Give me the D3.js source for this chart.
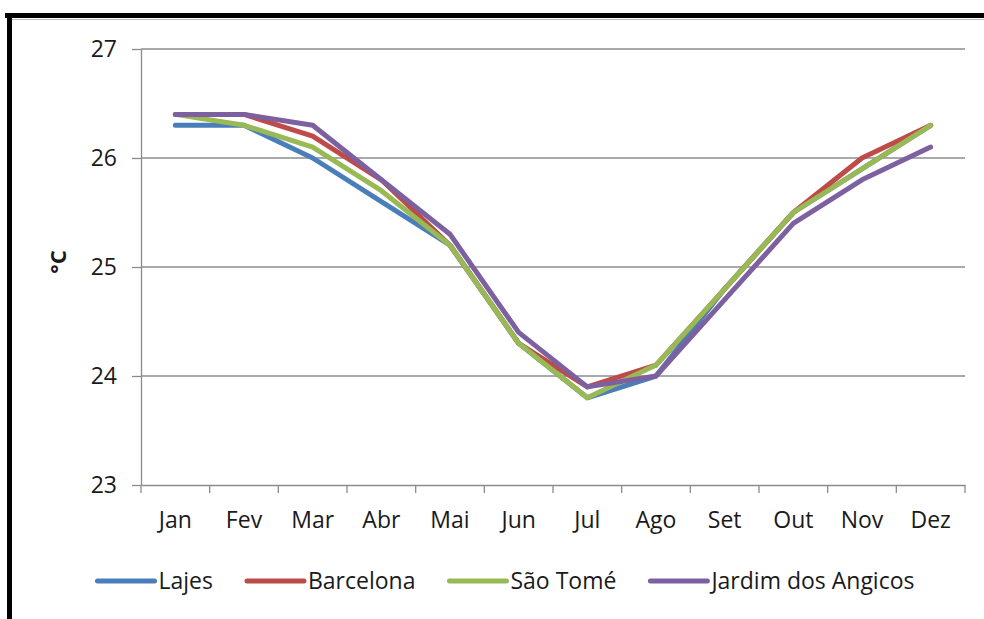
<!DOCTYPE html>
<html>
<head>
<meta charset="utf-8">
<script src="https://cdn.jsdelivr.net/npm/d3@7"></script>
<style>
    body { margin: 0; background: #fff; }
    svg text { font-family: "Open Sans", sans-serif; fill: #1a1a1a; }
    .grid line { stroke: #8c8c8c; stroke-width: 1.3; }
    .axis path, .axis line { stroke: #8c8c8c; stroke-width: 1.3; }
    .axis text { font-size: 23px; }
    .series { fill: none; stroke-width: 5; stroke-linejoin: round; stroke-linecap: round; }
    .legend text { font-size: 23px; }
</style>
</head>
<body>
<svg id="chart" width="984" height="619"></svg>
<script>
// months and series
const months = ["Jan", "Fev", "Mar", "Abr", "Mai", "Jun", "Jul", "Ago", "Set", "Out", "Nov", "Dez"];
const lajes     = [26.3, 26.3, 26.0, 25.6, 25.2, 24.3, 23.8, 24.0, 24.8, 25.5, 25.9, 26.3];
const barcelona = [26.4, 26.4, 26.2, 25.8, 25.2, 24.3, 23.9, 24.1, 24.8, 25.5, 26.0, 26.3];
const saoTome   = [26.4, 26.3, 26.1, 25.7, 25.2, 24.3, 23.8, 24.1, 24.8, 25.5, 25.9, 26.3];
const jardim    = [26.4, 26.4, 26.3, 25.8, 25.3, 24.4, 23.9, 24.0, 24.7, 25.4, 25.8, 26.1];
const yTicks = [23, 24, 25, 26, 27];

const series = [
    {name: "Lajes", values: lajes, color: "#4a7ebb"},
    {name: "Barcelona", values: barcelona, color: "#be4b48"},
    {name: "São Tomé", values: saoTome, color: "#98b954"},
    {name: "Jardim dos Angicos", values: jardim, color: "#7d60a0"}
];

const margin = {top: 49, left: 141, right: 19, bottom: 134};
const svg = d3.select("#chart");
const width = 984 - margin.left - margin.right;
const height = 619 - margin.top - margin.bottom;

// frame (top and left black border)
svg.append("rect").attr("x", 5).attr("y", 13).attr("width", 979).attr("height", 5).attr("fill", "#000");
svg.append("line").attr("x1", 12).attr("x2", 984).attr("y1", 19.5).attr("y2", 19.5)
    .attr("stroke", "#bbb").attr("stroke-width", 1);
svg.append("rect").attr("x", 7).attr("y", 13).attr("width", 5).attr("height", 606).attr("fill", "#000");

const chart = svg.append("g").attr("transform", "translate(" + margin.left + "," + margin.top + ")");

const x = d3.scaleBand().domain(months).range([0, width]);
const y = d3.scaleLinear().domain([23, 27]).range([height, 0]);

// gridlines
chart.append("g").attr("class", "grid")
    .selectAll("line").data(yTicks.filter(d => d !== 23)).enter()
    .append("line")
        .attr("x1", 0).attr("x2", width)
        .attr("y1", d => y(d)).attr("y2", d => y(d));

// y axis
const yAxis = chart.append("g").attr("class", "y axis")
    .call(d3.axisLeft(y).tickValues(yTicks).tickFormat(d3.format("d")).tickSize(9).tickPadding(15).tickSizeOuter(0));
yAxis.selectAll("text").attr("dy", "0.34em");

// x axis: ticks sit on category boundaries
const xAxis = chart.append("g").attr("class", "x axis")
    .attr("transform", "translate(0," + height + ")")
    .call(d3.axisBottom(x).tickSize(0).tickPadding(27).tickSizeOuter(0));
xAxis.selectAll(".boundary").data(d3.range(months.length + 1)).enter()
    .append("line").attr("class", "boundary")
        .attr("x1", i => i * x.step()).attr("x2", i => i * x.step())
        .attr("y1", 0).attr("y2", 8);

// y title
chart.append("text")
    .attr("transform", "translate(" + (58 - margin.left) + "," + (y(25) - 5) + ") rotate(-90)")
    .attr("text-anchor", "middle")
    .attr("dy", "0.35em")
    .style("font-size", "22px").style("font-weight", "bold")
    .text("°C");

// lines
const line = d3.line()
    .x((d, i) => x(months[i]) + x.bandwidth() / 2)
    .y(d => y(d));

chart.selectAll(".series").data(series).enter()
    .append("path")
        .attr("class", "series")
        .attr("stroke", d => d.color)
        .attr("d", d => line(d.values));

// legend
const legend = svg.append("g").attr("class", "legend").attr("transform", "translate(0,581)");
const items = legend.selectAll("g").data(series).enter().append("g");
items.append("line")
    .attr("x1", 0).attr("x2", 57).attr("y1", 0).attr("y2", 0)
    .attr("stroke", d => d.color).attr("stroke-width", 5).attr("stroke-linecap", "round");
items.append("text")
    .attr("x", 61).attr("dy", "0.36em")
    .text(d => d.name);

let offset = 0;
const widths = [];
items.each(function() {
    const w = 61 + this.querySelector("text").getComputedTextLength();
    widths.push(w);
});
const gap = 34;
const total = d3.sum(widths) + gap * (widths.length - 1);
offset = 506 - total / 2;
items.attr("transform", function(d, i) {
    const t = "translate(" + offset + ",0)";
    offset += widths[i] + gap;
    return t;
});
</script>
</body>
</html>
